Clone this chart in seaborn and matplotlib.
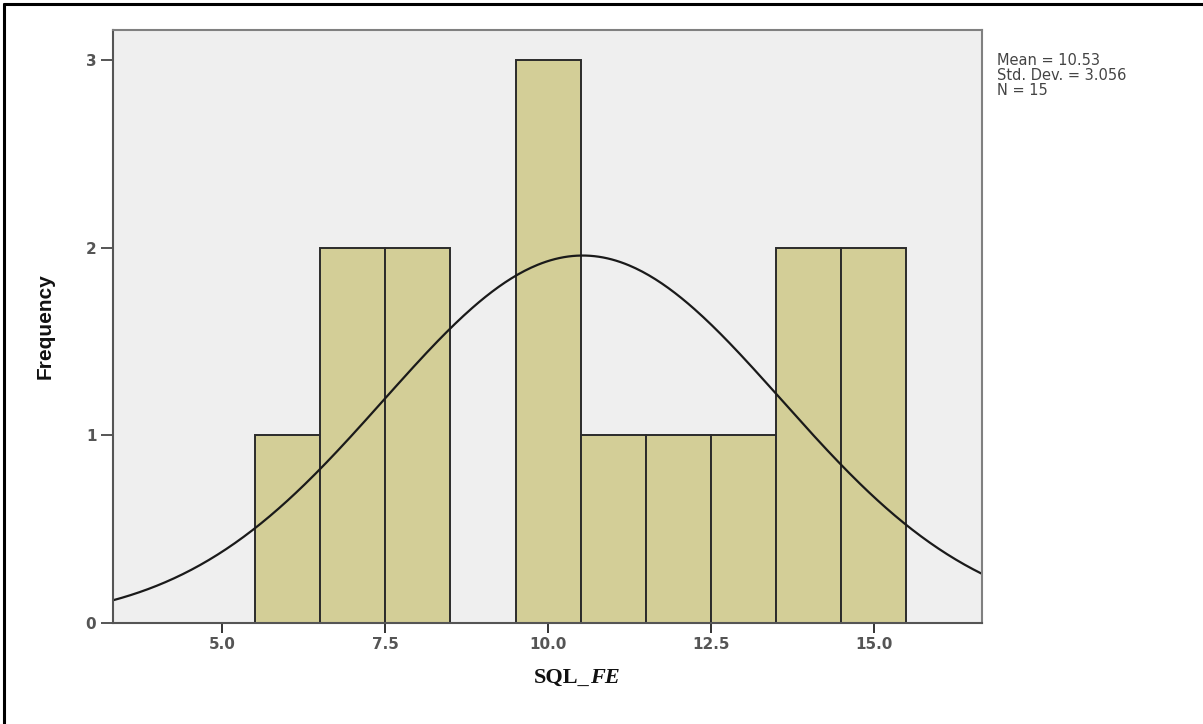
import numpy as np
import pandas as pd
import matplotlib
matplotlib.use("Agg")
import matplotlib.pyplot as plt
from matplotlib.lines import Line2D
import seaborn as sns

# Score bins (centres, width 1) and how many cases fall in each
bin_centers = [6, 7, 8, 9, 10, 11, 12, 13, 14, 15]
frequencies = [1, 2, 2, 0, 3, 1, 1, 1, 2, 2]

# Summary statistics of the sample
mean_val = 10.53
std_val = 3.056
n_cases = 15

x_ticks = [5.0, 7.5, 10.0, 12.5, 15.0]
x_tick_labels = ["5.0", "7.5", "10.0", "12.5", "15.0"]
y_ticks = [0, 1, 2, 3]

sns.set_style("white")
plt.rcParams["font.family"] = ["DejaVu Sans"]

df = pd.DataFrame({"score": bin_centers, "count": frequencies})

fig = plt.figure(figsize=(12.03, 7.24), dpi=100)
ax = fig.add_axes([113 / 1203, 1 - 623 / 724, (982 - 113) / 1203, (623 - 30) / 724])
ax.set_facecolor("#efefef")

sns.histplot(data=df, x="score", weights="count", binwidth=1, binrange=(5.5, 15.5),
             color="#d3ce97", edgecolor="#2b2b2b", linewidth=1.4, alpha=1.0, ax=ax)

# Normal curve scaled to the histogram (N * bin width)
xmin, xmax = 3.32, 16.66
xs = np.linspace(xmin, xmax, 400)
ys = n_cases * 1.0 / (std_val * np.sqrt(2 * np.pi)) * np.exp(-0.5 * ((xs - mean_val) / std_val) ** 2)
sns.lineplot(x=xs, y=ys, color="#1a1a1a", linewidth=1.6, ax=ax)

ax.set_xlim(xmin, xmax)
ax.set_ylim(0, 3.16)
ax.set_xticks(x_ticks)
ax.set_xticklabels(x_tick_labels)
ax.set_yticks(y_ticks)
ax.set_yticklabels([str(v) for v in y_ticks])

for side, sp in ax.spines.items():
    sp.set_visible(True)
    sp.set_color("#555555" if side in ("left", "bottom") else "#808080")
    sp.set_linewidth(1.5)

ax.tick_params(axis="x", direction="out", length=7, width=1.4, color="#333333",
               labelsize=11, labelcolor="#555555", pad=3, bottom=True)
ax.tick_params(axis="y", direction="out", length=9, width=1.4, color="#555555",
               labelsize=11, labelcolor="#555555", pad=3, left=True)
for lab in ax.get_xticklabels() + ax.get_yticklabels():
    lab.set_fontweight("bold")

ax.set_xlabel("")
ax.set_ylabel("Frequency", fontsize=15, fontweight="bold", color="#111111",
              family=["Liberation Sans"], labelpad=22)

# Axis title: "SQL_" upright, "FE" italic, both bold serif
fig.text(590 / 1203, 1 - 678 / 724, "SQL_", ha="right", va="center", fontsize=16,
         fontweight="bold", family=["Liberation Serif", "DejaVu Serif"], color="#111111")
fig.text(590 / 1203, 1 - 678 / 724, "FE", ha="left", va="center", fontsize=16,
         fontweight="bold", style="italic", family=["Liberation Serif", "DejaVu Serif"], color="#111111")

# Statistics box on the right
fig.text(997 / 1203, 1 - 53 / 724,
         f"Mean = {mean_val:.2f}\nStd. Dev. = {std_val:.3f}\nN = {n_cases}",
         ha="left", va="top", fontsize=10.5, color="#444444", linespacing=1.0)

# Frame lines along the left and top of the figure
fig.add_artist(Line2D([3.5 / 1203, 3.5 / 1203], [0, 1 - 3.5 / 724], transform=fig.transFigure,
                      color="black", linewidth=2.2))
fig.add_artist(Line2D([3.5 / 1203, 1], [1 - 3.5 / 724, 1 - 3.5 / 724], transform=fig.transFigure,
                      color="black", linewidth=2.2))

fig.savefig("out.png", dpi=100)
